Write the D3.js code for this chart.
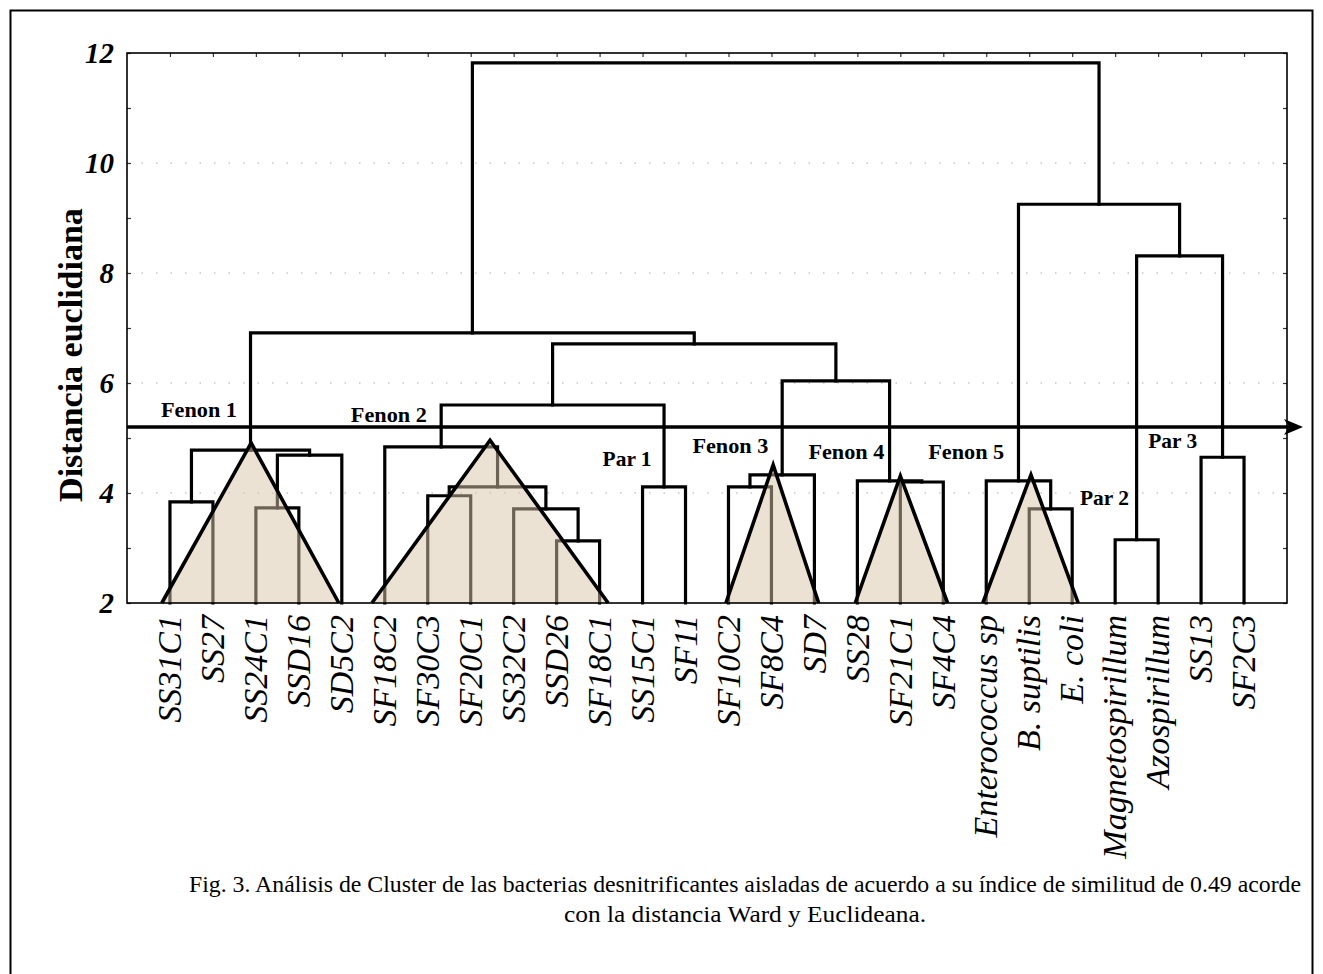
<!DOCTYPE html>
<html>
<head>
<meta charset="utf-8">
<script src="https://cdn.jsdelivr.net/npm/d3@7"></script>
<style>
  html, body { margin: 0; padding: 0; background: #fff; }
  svg { display: block; }
  text { font-family: "Times New Roman", "Liberation Serif", Times, serif; }
</style>
</head>
<body>
<svg id="chart" width="1323" height="974"></svg>
<script>
// ---------------- DATA ----------------
const leafLabels = ["SS31C1","SS27","SS24C1","SSD16","SD5C2","SF18C2","SF30C3","SF20C1",
  "SS32C2","SSD26","SF18C1","SS15C1","SF11","SF10C2","SF8C4","SD7","SS28","SF21C1","SF4C4",
  "Enterococcus sp","B. suptilis","E. coli","Magnetospirillum","Azospirillum","SS13","SF2C3"];

// hclust-style merge table: negative = leaf (1-based), positive = earlier merge (1-based)
const mergeA = [-10,-23,-21,-9,-3,-1,-7,-14,-12, 7,-18,-17,-20, 8,-25, 5, 6,-6,18,14,19,17, 2,13,22];
const mergeB = [-11,-24,-22, 1,-4,-2,-8,-15,-13, 4,-19, 11,  3,-16,-26,-5,16,10, 9,12,20,21,15,23,24];
const mergeHeight = [3.13,3.15,3.71,3.71,3.73,3.84,3.95,4.11,4.11,4.11,4.20,4.22,4.22,4.33,4.65,
  4.69,4.78,4.84,5.60,6.04,6.71,6.91,8.31,9.25,11.82];

// Groups marked with shaded triangles (leaf-index units, distance units)
const triangleNames = ["Fenon 1","Fenon 2","Fenon 3","Fenon 4","Fenon 5"];
const triangleFrom  = [-0.19, 4.70, 12.94, 15.95, 18.92];
const triangleTo    = [3.93, 10.20, 15.10, 18.10, 21.14];
const triangleApex  = [1.89, 7.45, 14.04, 17.00, 20.04];
const triangleTop   = [4.91, 4.96, 4.51, 4.31, 4.33];

const groupLabels = ["Fenon 1","Fenon 2","Par 1","Fenon 3","Fenon 4","Fenon 5","Par 2","Par 3"];
const yTicks = [2,4,6,8,10,12];
const cutoff = 5.2;
const yTitle = "Distancia euclidiana";
const captionLines = ["Fig. 3. Análisis de Cluster de las bacterias desnitrificantes aisladas de acuerdo a su índice de similitud de 0.49 acorde",
  "con la distancia Ward y Euclideana."];

// ---------------- LAYOUT ----------------
const plot = {left: 127, top: 53, right: 1287, bottom: 603};
const svg = d3.select("#chart");

// outer frame
svg.append("rect").attr("x", 10.5).attr("y", 10.5).attr("width", 1302).attr("height", 1000)
  .attr("fill", "none").attr("stroke", "#000").attr("stroke-width", 2);

const x = d3.scalePoint().domain(d3.range(leafLabels.length)).range([plot.left, plot.right]).padding(1);
const y = d3.scaleLinear().domain([2, 12]).range([plot.bottom, plot.top]);
const xi = i => x(0) + i * x.step();

// dotted grid
const grid = svg.append("g");
[4,6,8,10].forEach(v => {
  grid.append("line").attr("x1", plot.left).attr("x2", plot.right).attr("y1", y(v)).attr("y2", y(v))
    .attr("stroke", "#c8c8c8").attr("stroke-width", 1.3).attr("stroke-dasharray", "1.5,13");
});

// axes ticks
const axL = svg.append("g").attr("transform", `translate(${plot.left},0)`)
  .call(d3.axisLeft(y).tickValues(d3.range(2, 12.01, 1)).tickSize(-4).tickFormat(""));
const axR = svg.append("g").attr("transform", `translate(${plot.right},0)`)
  .call(d3.axisRight(y).tickValues(d3.range(2, 12.01, 1)).tickSize(-4).tickFormat(""));
const axT = svg.append("g").attr("transform", `translate(0,${plot.top})`)
  .call(d3.axisTop(x).tickSize(-4).tickFormat(""));
[axL, axR, axT].forEach(g => { g.select(".domain").remove(); g.selectAll("line").attr("stroke", "#333").attr("stroke-width", 1.2); });

// y tick labels
svg.append("g").selectAll("text").data(yTicks).join("text")
  .attr("x", plot.left - 13).attr("y", d => y(d)).attr("dy", "0.35em")
  .attr("text-anchor", "end").attr("font-size", 29).attr("font-style", "italic").attr("font-weight", "bold")
  .text(d => d);

// y title
svg.append("text").attr("transform", `translate(82,355) rotate(-90)`)
  .attr("text-anchor", "middle").attr("font-size", 34).attr("font-weight", "bold")
  .text(yTitle);

// ---------------- DENDROGRAM ----------------
const nodeX = [];
function childPos(c) {
  if (c < 0) return [x(-c - 1), y(2)];
  return [nodeX[c - 1], y(mergeHeight[c - 1])];
}
const links = [];
mergeA.forEach((a, k) => {
  const [ax, ay] = childPos(a);
  const [bx, by] = childPos(mergeB[k]);
  const hy = y(mergeHeight[k]);
  nodeX[k] = (ax + bx) / 2;
  links.push(`M${ax},${ay}V${hy}H${bx}V${by}`);
});
svg.append("g").selectAll("path").data(links).join("path")
  .attr("d", d => d).attr("fill", "none").attr("stroke", "#000").attr("stroke-width", 3.2)
  .attr("stroke-linejoin", "miter").attr("stroke-linecap", "square");

// cutoff arrow
const cy = y(cutoff);
svg.append("line").attr("x1", plot.left).attr("x2", plot.right + 2).attr("y1", cy).attr("y2", cy)
  .attr("stroke", "#000").attr("stroke-width", 3.5);
svg.append("path").attr("d", `M${plot.right - 3},${cy - 8}L${plot.right + 16},${cy}L${plot.right - 3},${cy + 8}L${plot.right + 2},${cy}Z`)
  .attr("fill", "#000");

// triangles
const tri = svg.append("g");
triangleNames.forEach((n, i) => {
  const pts = [[xi(triangleFrom[i]), y(2)], [xi(triangleApex[i]), y(triangleTop[i])], [xi(triangleTo[i]), y(2)]];
  const d = "M" + pts.map(p => p.join(",")).join("L") + "Z";
  tri.append("path").attr("d", d).attr("fill", "rgb(217,198,168)").attr("fill-opacity", 0.5).attr("stroke", "none");
  tri.append("path").attr("d", "M" + pts.map(p => p.join(",")).join("L"))
    .attr("fill", "none").attr("stroke", "#000").attr("stroke-width", 3.6).attr("stroke-linejoin", "miter");
});

// plot frame
svg.append("rect").attr("x", plot.left).attr("y", plot.top)
  .attr("width", plot.right - plot.left).attr("height", plot.bottom - plot.top)
  .attr("fill", "none").attr("stroke", "#000").attr("stroke-width", 1.6);

// group annotation labels (placed in leaf-index / distance units)
const groupAt = [[-0.21, 5.38], [4.21, 5.29], [10.07, 4.49], [12.16, 4.73], [14.86, 4.62], [17.65, 4.62], [21.18, 3.78], [22.77, 4.82]];
svg.append("g").selectAll("text").data(groupLabels).join("text")
  .attr("x", (d, i) => xi(groupAt[i][0])).attr("y", (d, i) => y(groupAt[i][1]))
  .attr("font-size", 21).attr("font-weight", "bold")
  .attr("textLength", d => d.startsWith("Par") ? 49 : 76).attr("lengthAdjust", "spacingAndGlyphs")
  .text(d => d);

// leaf labels
svg.append("g").selectAll("text").data(leafLabels).join("text")
  .attr("transform", (d, i) => `translate(${x(i)},${plot.bottom + 12}) rotate(-90)`)
  .attr("text-anchor", "end").attr("dy", "0.33em")
  .attr("font-size", 34).attr("font-style", "italic")
  .text(d => d);

// caption
svg.append("g").selectAll("text").data(captionLines).join("text")
  .attr("x", 745).attr("y", (d, i) => 892 + i * 30)
  .attr("text-anchor", "middle").attr("font-size", 24)
  .attr("textLength", (d, i) => i === 0 ? 1112 : 362).attr("lengthAdjust", "spacingAndGlyphs")
  .text(d => d);
</script>
</body>
</html>
